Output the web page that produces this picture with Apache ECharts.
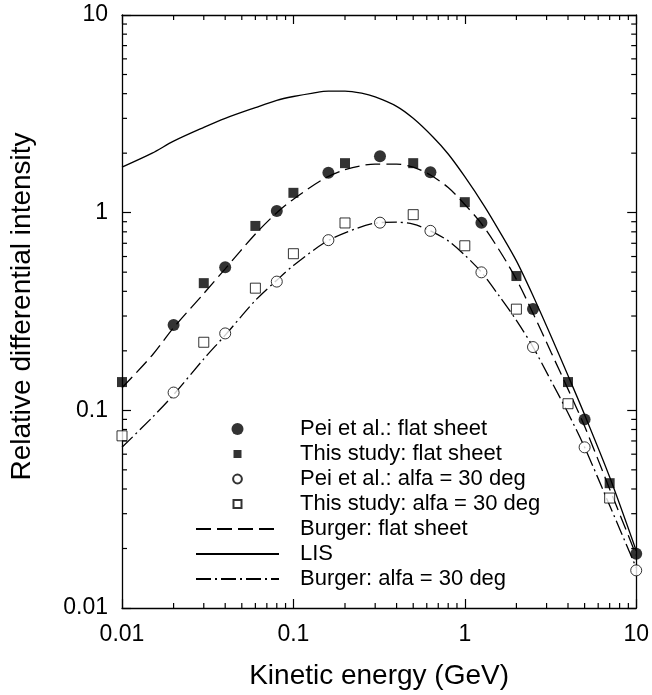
<!DOCTYPE html>
<html>
<head>
<meta charset="utf-8">
<script src="https://cdn.jsdelivr.net/npm/echarts@6/dist/echarts.min.js"></script>
<style>
  html, body { margin: 0; padding: 0; background: #fff; }
  #chart { width: 652px; height: 695px; }
</style>
</head>
<body>
<div id="chart"></div>
<script>
// Measured points: Pei et al. (circles) and this study (squares)
const peiX = [0.02, 0.04, 0.08, 0.16, 0.32, 0.63, 1.25, 2.5, 5, 10];
const peiFlat = [0.27, 0.53, 1.02, 1.59, 1.93, 1.60, 0.89, 0.326, 0.090, 0.0188];
const peiAlfa = [0.123, 0.245, 0.448, 0.726, 0.89, 0.809, 0.499, 0.209, 0.065, 0.0155];

const studyX = [0.01, 0.03, 0.06, 0.1, 0.2, 0.5, 1, 2, 4, 7];
const studyFlat = [0.139, 0.44, 0.857, 1.26, 1.78, 1.78, 1.13, 0.478, 0.139, 0.0428];
const studyAlfa = [0.0743, 0.221, 0.415, 0.62, 0.887, 0.977, 0.68, 0.325, 0.108, 0.036];

// Model curves
const burgerX = [0.01, 0.015, 0.02, 0.03, 0.04, 0.06, 0.08, 0.1, 0.15, 0.2, 0.3, 0.4, 0.5, 0.63, 0.8, 1.0, 1.25, 1.6, 2.0, 2.5, 3.2, 4.0, 5.0, 7.0, 10];
const burgerFlat = [0.13, 0.19, 0.262, 0.39, 0.52, 0.78, 1.0, 1.17, 1.48, 1.65, 1.76, 1.76, 1.70, 1.55, 1.34, 1.10, 0.88, 0.64, 0.46, 0.31, 0.195, 0.128, 0.083, 0.040, 0.0185];
const burgerAlfa = [0.065, 0.092, 0.12, 0.182, 0.24, 0.36, 0.455, 0.54, 0.70, 0.79, 0.885, 0.895, 0.875, 0.81, 0.72, 0.61, 0.50, 0.375, 0.285, 0.209, 0.14, 0.097, 0.065, 0.033, 0.016];

const lisX = [0.01, 0.015, 0.02, 0.03, 0.04, 0.06, 0.08, 0.1, 0.13, 0.16, 0.2, 0.25, 0.3, 0.4, 0.5, 0.65, 0.8, 1.0, 1.3, 1.6, 2.0, 2.5, 3.2, 4.0, 5.0, 7.0, 10];
const lis = [1.70, 2.0, 2.3, 2.7, 3.0, 3.4, 3.7, 3.87, 4.03, 4.12, 4.12, 4.02, 3.85, 3.45, 3.0, 2.42, 1.98, 1.52, 1.08, 0.80, 0.57, 0.38, 0.235, 0.15, 0.095, 0.046, 0.0195];

// Axis ranges and minor tick positions
const axisMin = 0.01;
const axisMax = 10;
const minorTicks = [0.02, 0.03, 0.04, 0.05, 0.06, 0.07, 0.08, 0.09,
                    0.2, 0.3, 0.4, 0.5, 0.6, 0.7, 0.8, 0.9,
                    2, 3, 4, 5, 6, 7, 8, 9];

const FONT = '"Liberation Sans", Arial, sans-serif';
const pair = (xs, ys) => xs.map((x, i) => [x, ys[i]]);

// Legend glyphs; the leading moves pad the box so the shapes draw smaller than the item height
const ICON_SQUARE = 'path://M0,0M12,12M2,2H10V10H2Z';
const ICON_RING = 'path://M0,0M12,12M6,1.6A4.4,4.4,0,1,1,5.99,1.6Z';

const chart = echarts.init(document.getElementById('chart'), null, { renderer: 'canvas' });

const baseAxis = {
  type: 'log',
  logBase: 10,
  min: axisMin,
  max: axisMax,
  splitNumber: 3,
  splitLine: { show: false },
  axisLine: { show: true, lineStyle: { color: '#000', width: 1.3 } },
  axisTick: { show: true, inside: true, length: 9, lineStyle: { color: '#000', width: 1.2 } },
};

const MINOR = 5;

option = {
  backgroundColor: '#fff',
  animation: false,
  grid: { left: 122, right: 15, top: 15, bottom: 84, containLabel: false },
  xAxis: [
    Object.assign({}, baseAxis, {
      position: 'bottom',
      name: 'Kinetic energy (GeV)',
      nameLocation: 'middle',
      nameGap: 54,
      nameTextStyle: { fontSize: 28, fontFamily: FONT, color: '#000' },
      axisLabel: { fontSize: 23, fontFamily: FONT, color: '#000', margin: 15 },
    }),
    Object.assign({}, baseAxis, {
      position: 'top',
      axisLabel: { show: false },
    }),
  ],
  yAxis: [
    Object.assign({}, baseAxis, {
      position: 'left',
      name: 'Relative differential intensity',
      nameLocation: 'middle',
      nameGap: 86,
      nameTextStyle: { fontSize: 28, fontFamily: FONT, color: '#000', padding: [0, 0, 0, 10] },
      axisLabel: { fontSize: 23, fontFamily: FONT, color: '#000', margin: 14 },
    }),
    Object.assign({}, baseAxis, {
      position: 'right',
      axisLabel: { show: false },
    }),
  ],
  legend: {
    orient: 'vertical',
    left: 190,
    top: 413,
    itemWidth: 83,
    itemHeight: 12,
    itemGap: 3,
    selectedMode: false,
    textStyle: { fontSize: 22, fontFamily: FONT, color: '#000', padding: [0, 0, 0, 16] },
    data: [
      { name: 'Pei et al.: flat sheet', icon: 'circle' },
      { name: 'This study: flat sheet', icon: ICON_SQUARE },
      { name: 'Pei et al.: alfa = 30 deg', icon: ICON_RING },
      { name: 'This study: alfa = 30 deg', icon: ICON_SQUARE },
      { name: 'Burger: flat sheet', itemStyle: { opacity: 0 } },
      { name: 'LIS', itemStyle: { opacity: 0 } },
      { name: 'Burger: alfa = 30 deg', itemStyle: { opacity: 0 } },
    ],
  },
  series: [
    {
      name: 'LIS', type: 'line', smooth: 0.3, showSymbol: false, symbol: 'none',
      data: pair(lisX, lis),
      itemStyle: { color: '#000' },
      lineStyle: { color: '#000', width: 1.3, type: 'solid' },
      z: 2,
    },
    {
      name: 'Burger: flat sheet', type: 'line', smooth: 0.3, showSymbol: false, symbol: 'none',
      data: pair(burgerX, burgerFlat),
      itemStyle: { color: '#000' },
      lineStyle: { color: '#000', width: 1.3, type: [15, 6] },
      z: 2,
    },
    {
      name: 'Burger: alfa = 30 deg', type: 'line', smooth: 0.3, showSymbol: false, symbol: 'none',
      data: pair(burgerX, burgerAlfa),
      itemStyle: { color: '#000' },
      lineStyle: { color: '#000', width: 1.3, type: [15, 4, 2, 4] },
      z: 2,
    },
    {
      name: 'Pei et al.: flat sheet', type: 'scatter', symbol: 'circle', symbolSize: 12,
      data: pair(peiX, peiFlat),
      itemStyle: { color: '#000' },
      z: 4,
    },
    {
      name: 'This study: flat sheet', type: 'scatter', symbol: 'rect', symbolSize: 10,
      data: pair(studyX, studyFlat),
      itemStyle: { color: '#000' },
      z: 4,
    },
    {
      name: 'Pei et al.: alfa = 30 deg', type: 'scatter', symbol: 'circle', symbolSize: 11,
      data: pair(peiX, peiAlfa),
      itemStyle: { color: '#fff', borderColor: '#000', borderWidth: 1 },
      z: 4,
    },
    {
      name: 'This study: alfa = 30 deg', type: 'scatter', symbol: 'rect', symbolSize: 10,
      data: pair(studyX, studyAlfa),
      itemStyle: { color: '#fff', borderColor: '#000', borderWidth: 1 },
      z: 4,
    },
    {
      // minor ticks on the bottom and top frame edges
      type: 'custom', silent: true, clip: false, z: 5,
      data: minorTicks.map(v => [v, 1]),
      renderItem: function (params, api) {
        const v = api.value(0);
        const b = api.coord([v, axisMin]);
        const t = api.coord([v, axisMax]);
        const style = { stroke: '#000', lineWidth: 1.2 };
        return {
          type: 'group',
          children: [
            { type: 'line', shape: { x1: b[0], y1: b[1], x2: b[0], y2: b[1] - MINOR }, style: style },
            { type: 'line', shape: { x1: t[0], y1: t[1], x2: t[0], y2: t[1] + MINOR }, style: style },
          ],
        };
      },
    },
    {
      // minor ticks on the left and right frame edges
      type: 'custom', silent: true, clip: false, z: 5,
      data: minorTicks.map(v => [1, v]),
      renderItem: function (params, api) {
        const v = api.value(1);
        const l = api.coord([axisMin, v]);
        const r = api.coord([axisMax, v]);
        const style = { stroke: '#000', lineWidth: 1.2 };
        return {
          type: 'group',
          children: [
            { type: 'line', shape: { x1: l[0], y1: l[1], x2: l[0] + MINOR, y2: l[1] }, style: style },
            { type: 'line', shape: { x1: r[0], y1: r[1], x2: r[0] - MINOR, y2: r[1] }, style: style },
          ],
        };
      },
    },
  ],
};

chart.setOption(option);
</script>
</body>
</html>
